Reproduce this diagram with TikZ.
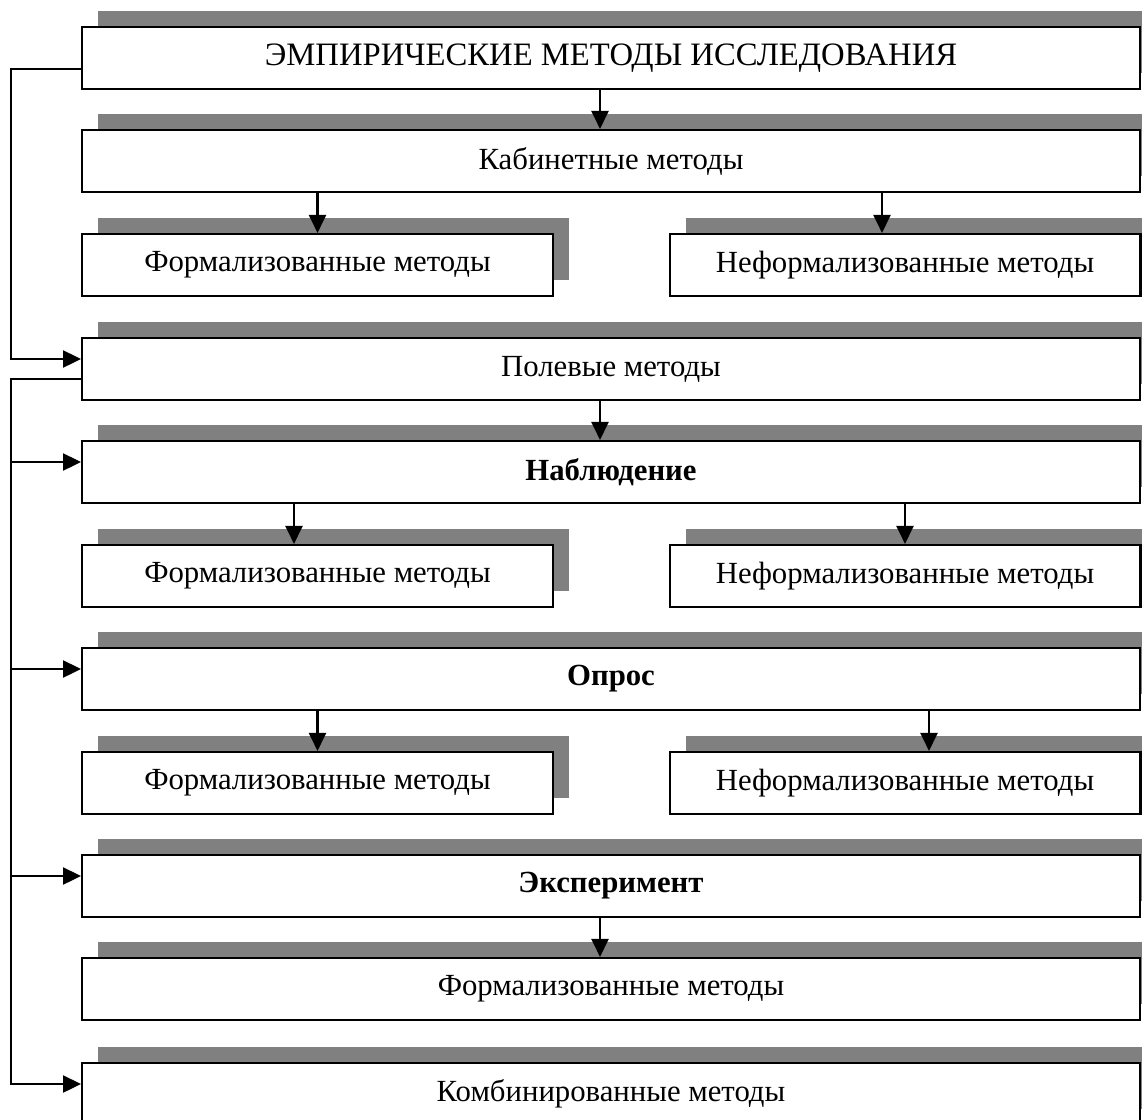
\documentclass[tikz,border=0pt]{standalone}
\usepackage{fontspec}
\setmainfont{Liberation Serif}
\usepackage{tikz}
\usetikzlibrary{arrows.meta, shadows}
\definecolor{ten}{HTML}{808080}

\begin{document}
\begin{tikzpicture}[x=0.02cm, y=-0.02cm,
    ramka/.style={draw=black, line width=1.2pt, fill=white, inner sep=0pt,
      minimum height=1.24cm, font=\fontsize{17.5}{21}\selectfont,
      drop shadow={shadow xshift=0.32cm, shadow yshift=0.32cm, fill=ten, opacity=1}},
    shirokaya/.style={ramka, minimum width=21.16cm},
    uzkaya/.style={ramka, minimum width=9.42cm},
    strelka/.style={line width=1.2pt, -{Triangle[length=0.36cm, width=0.34cm]}}]
    \useasboundingbox (0,0) rectangle (1142,1119);
    \clip (0,0) rectangle (1142,1119);
    % Bloki
    \node[shirokaya, font=\fontsize{18.6}{22}\selectfont] (emp) at (611,58) {ЭМПИРИЧЕСКИЕ МЕТОДЫ ИССЛЕДОВАНИЯ};
    \node[shirokaya] (kab) at (611,161) {Кабинетные методы};
    \node[shirokaya] (pol) at (611,369) {Полевые методы};
    \node[shirokaya] (nab) at (611,472) {\textbf{Наблюдение}};
    \node[shirokaya] (opr) at (611,679) {\textbf{Опрос}};
    \node[shirokaya] (eksp) at (611,886) {\textbf{Эксперимент}};
    \node[shirokaya] (eksp-f) at (611,989) {Формализованные методы};
    \node[shirokaya] (komb) at (611,1094) {Комбинированные методы};
    % Pary: imya, y, sdvig levoj i pravoj strelki
    \foreach \imya/\y/\dl/\dr in {kab/265/0/-0.46, nab/576/-0.47/0, opr/783/0/0.48} {
      \node[uzkaya] (\imya-f) at (317.5,\y) {Формализованные методы};
      \node[uzkaya] (\imya-n) at (905,\y) {Неформализованные методы};
      \draw[strelka] ([xshift=\dl cm]\imya.south -| \imya-f.north) -- ([xshift=\dl cm]\imya-f.north);
      \draw[strelka] ([xshift=\dr cm]\imya.south -| \imya-n.north) -- ([xshift=\dr cm]\imya-n.north);
    }
    % Vertikalnye strelki
    \draw[strelka] ([xshift=-0.22cm]emp.south) -- ([xshift=-0.22cm]kab.north);
    \draw[strelka] ([xshift=-0.22cm]pol.south) -- ([xshift=-0.22cm]nab.north);
    \draw[strelka] ([xshift=-0.22cm]eksp.south) -- ([xshift=-0.22cm]eksp-f.north);
    % Levyj stvol
    \draw[strelka] ([yshift=-0.22cm]emp.west) -- ++(-1.4cm,0) |- ([yshift=0.2cm]pol.west);
    \draw[strelka] ([yshift=-0.2cm]pol.west) -- ++(-1.4cm,0) coordinate (stvol) |- ([yshift=0.2cm]komb.west);
    \foreach \imya in {nab, opr, eksp}
      \draw[strelka] ([yshift=0.2cm]\imya.west -| stvol) -- ([yshift=0.2cm]\imya.west);
  \end{tikzpicture}
\end{document}
